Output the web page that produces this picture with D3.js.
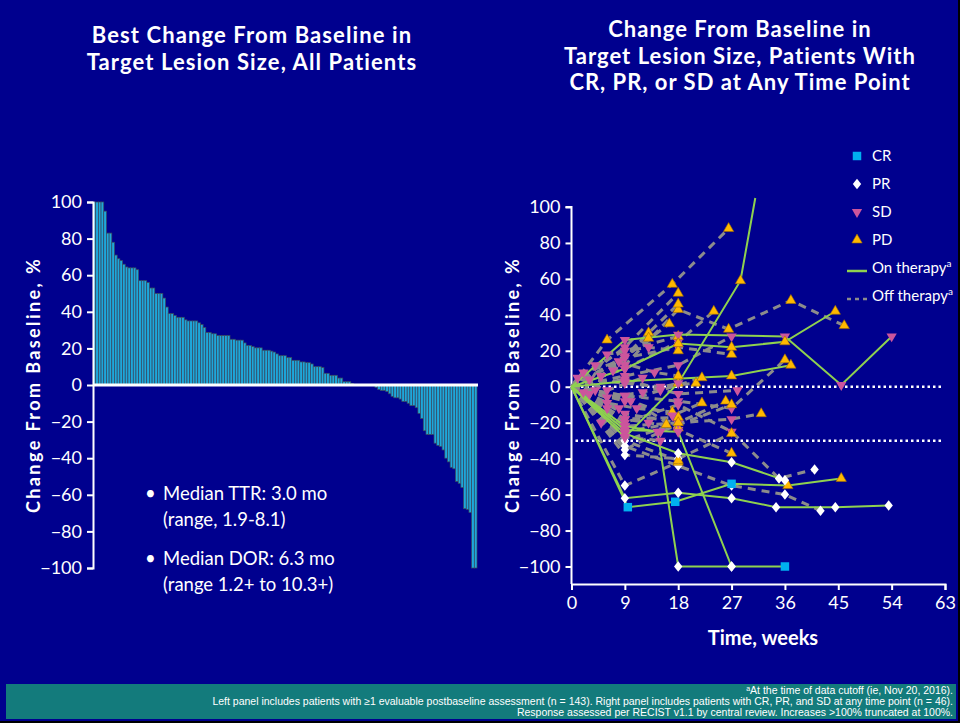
<!DOCTYPE html>
<html>
<head>
<meta charset="utf-8">
<script src="https://cdnjs.cloudflare.com/ajax/libs/d3/7.8.5/d3.min.js"></script>
<style>
  body { margin: 0; background: #000; }
  svg text { font-family: Lato, "Open Sans", sans-serif; fill: #fff; }
</style>
</head>
<body>
<svg id="chart" width="960" height="723"></svg>
<script>
// ---- data ----
var pctTicks = [100, 80, 60, 40, 20, 0, -20, -40, -60, -80, -100];
var weekTicks = [0, 9, 18, 27, 36, 45, 54, 63];

// best change from baseline, one bar per patient (n = 143), sorted
var bestChange = [
  100, 100, 100, 100, 95, 83, 83, 78, 71, 69, 68, 66, 64.5, 64, 64, 64, 63,
  57, 57, 57, 56, 53, 53, 50, 50, 50, 47.5, 42.6, 39, 39, 38, 37, 37, 37,
  35.6, 35, 35, 35, 35, 34, 33, 31.4, 28.7, 28.7, 28, 28, 27, 27, 27, 27, 27,
  25, 25, 24.5, 24.5, 24.5, 23, 21.6, 21.6, 21, 20.3, 20.3, 20.3, 19, 19, 19,
  18.5, 18, 17, 16, 16, 16, 15, 15, 13.5, 13.5, 13.5, 12.6, 12.6, 12.2, 12.2,
  11.5, 10, 10, 10, 9.5, 6.4, 6.4, 5.3, 5.3, 5.3, 3.8, 3.8, 1.8, 1.8, 1.8, 0.9,
  0, 0, 0, 0, 0, 0, 0, 0,
  -1.3, -2.5, -3, -3, -3.6, -4.8, -6.2, -7, -7, -7.7, -9, -9, -10, -11.3, -11.3,
  -12.4, -15.5, -18.3, -25, -27, -27, -27, -31.8, -33, -33.6, -35.5, -40, -42,
  -45, -45.8, -52.7, -53.8, -56, -67.6, -68, -69.7, -100, -100
];

// right panel: [week, % change, response at that assessment]
var onTherapy = [
  [[0,0],[9,-28,"SD"],[18,2,"SD"],[28.5,59,"PD"],[31,105]],
  [[0,0],[9,26,"SD"],[18,29,"SD"],[36,28,"SD"],[45.5,1,"SD"],[54,28,"SD"]],
  [[0,0],[9,10,"SD"],[18,24,"PD"],[27,22,"PD"],[36,25,"PD"],[44.5,42,"PD"]],
  [[0,0],[9,3,"SD"],[27,6,"PD"],[37,12,"PD"]],
  [[0,0],[9.5,-67,"CR"],[17.5,-64,"CR"],[27,-54,"CR"],[36.5,-55,"PD"],[45.5,-51,"PD"]],
  [[0,0],[9,-62,"PR"],[18,-59,"PR"],[27,-62,"PR"],[34.5,-67,"PR"],[44.5,-67,"PR"],[53.5,-66,"PR"]],
  [[0,0],[9,-26,"SD"],[18,-37,"PR"],[27,-42,"PR"],[36,-52,"PR"]],
  [[0,0],[9,-22,"SD"],[14.5,-25,"SD"],[18,-100,"PR"],[27,-100,"PR"]],
  [[0,0],[9,-24,"SD"],[18,-25,"SD"],[27,-100,"PR"],[36,-100,"CR"]]
];
var offTherapy = [
  [[0,0],[6,26,"PD"],[17,57,"PD"],[26.5,88,"PD"]],
  [[0,0],[9,12,"SD"],[18,43,"PD"],[26.5,32,"PD"],[37,48,"PD"],[46,34,"PD"]],
  [[0,0],[9,10,"SD"],[18,25,"SD"],[24,42,"PD"]],
  [[0,0],[9,22,"SD"],[18,52,"PD"]],
  [[0,0],[9,17,"SD"],[18,46,"PD"]],
  [[0,0],[8,14,"SD"],[16.5,35,"PD"]],
  [[0,0],[7,9,"SD"],[13,30,"PD"]],
  [[0,0],[5,6,"SD"],[13,27,"PD"]],
  [[0,0],[9,16,"SD"],[18,22,"SD"],[27,18,"PD"]],
  [[0,0],[9,6,"SD"],[18,12,"SD"],[27,28,"SD"]],
  [[0,0],[9,-5,"SD"],[18,-24,"SD"],[27,-37,"PD"]],
  [[0,0],[9,-20,"SD"],[18,-10,"SD"],[27,-25,"SD"],[35,-51,"PR"],[41,-46,"PR"]],
  [[0,0],[9,-33,"PR"],[18,-44,"PR"],[27,-55,"PR"],[36,-60,"PR"],[42,-69,"PR"]],
  [[0,0],[9,-55,"PR"],[18,-42,"PD"]],
  [[0,0],[9,-38,"PR"],[18,-40,"PR"],[27,-26,"PD"]],
  [[0,0],[9,-15,"SD"],[18,-20,"SD"],[27,-18,"SD"],[32,-15,"PD"]],
  [[0,0],[9,-5,"SD"],[18,-8,"SD"],[27,-12,"SD"],[36,15,"PD"]],
  [[0,0],[6,-6,"SD"],[12,-3,"SD"],[18,2,"PD"]],
  [[0,0],[3,4,"SD"],[9,2,"SD"],[15,0,"SD"],[21,2,"PD"]],
  [[0,0],[2,8,"SD"],[8,14,"SD"],[14,8,"SD"],[18,6,"PD"]],
  [[0,0],[6,-12,"SD"],[9,-18,"SD"],[13,-20,"SD"],[18,-23,"PD"]],
  [[0,0],[5,-20,"SD"],[9,-25,"SD"],[16,-21,"PD"]],
  [[0,0],[6,-9,"SD"],[11,-12,"SD"],[17,-14,"PD"]],
  [[0,0],[9,-8,"SD"],[15,-2,"SD"],[22,5,"PD"]],
  [[0,0],[4,12,"SD"],[9,20,"SD"],[18,28,"PD"]],
  [[0,0],[9,4,"SD"],[18,-4,"SD"],[28,-2,"SD"]],
  [[0,0],[9,-30,"PR"],[18,-20,"SD"],[26,-8,"PD"]],
  [[0,0],[9,-18,"SD"],[18,-17,"PD"]],
  [[0,0],[9,-22,"SD"],[18,-20,"PD"]],
  [[0,0],[9,-30,"PR"],[18,-41,"PD"]],
  [[0,0],[9,-35,"PR"],[15,-25,"SD"],[27,-10,"PD"]],
  [[0,0],[3,-4,"SD"],[8,-12,"SD"]],
  [[0,0],[2,-3,"SD"],[6,18,"SD"],[13,22,"SD"],[18,20,"PD"]],
  [[0,0],[9,-28,"SD"],[15,-30,"SD"]],
  [[0,0],[4,-2,"SD"],[10,-8,"SD"],[17,-16,"SD"],[22,-9,"PD"]],
  [[0,0],[1,5,"SD"],[6,-2,"SD"],[12,5,"SD"]]
];

var legendItems = ["CR", "PR", "SD", "PD"];

// ---- styles ----
var BG = "#00008e";
var GREEN = "#8fd14f";
var GREY = "#8c8c8c";

// wider diamond than d3.symbolDiamond
var wideDiamond = {
  draw: function(ctx, size) {
    var h = Math.sqrt(size) * 0.9, w = h * 0.8;
    ctx.moveTo(0, -h); ctx.lineTo(w, 0); ctx.lineTo(0, h); ctx.lineTo(-w, 0); ctx.closePath();
  }
};
var markerStyle = {
  CR: { type: d3.symbolSquare, size: 72, fill: "#00b0f0", stroke: "none", rot: 0 },
  PR: { type: wideDiamond, size: 34, fill: "#ffffff", stroke: "none", rot: 0 },
  SD: { type: d3.symbolTriangle, size: 46, fill: "#cc559c", stroke: "none", rot: 180 },
  PD: { type: d3.symbolTriangle, size: 46, fill: "#ffb800", stroke: "#a06c00", rot: 0 }
};

var svg = d3.select("#chart");
svg.append("rect").attr("width", 958).attr("height", 721).attr("fill", BG);

// ---- left panel ----
var yL = d3.scaleLinear().domain([-100, 100]).range([568, 202]);
var xL = d3.scaleBand().domain(d3.range(bestChange.length)).range([93, 477]).padding(0);

svg.append("g").selectAll("rect")
  .data(bestChange)
  .enter().append("rect")
  .attr("x", function(d, i) { return xL(i); })
  .attr("y", function(d) { return yL(Math.max(0, d)); })
  .attr("width", xL.bandwidth())
  .attr("height", function(d) { return Math.abs(yL(d) - yL(0)); })
  .attr("fill", "#1ea7da")
  .attr("stroke", "#3a4a5e")
  .attr("stroke-width", 0.7);

var axL = svg.append("g")
  .attr("transform", "translate(93,0)")
  .call(d3.axisLeft(yL).tickValues(pctTicks).tickSize(6).tickPadding(5));
axL.select(".domain").attr("stroke", "#fff").attr("stroke-width", 2);
axL.selectAll(".tick line").attr("stroke", "#fff").attr("stroke-width", 2);
axL.selectAll(".tick text").attr("fill", "#fff").style("font-size", "18px");

svg.append("line")
  .attr("x1", 93).attr("x2", 478)
  .attr("y1", yL(0)).attr("y2", yL(0))
  .attr("stroke", "#fff").attr("stroke-width", 3);

svg.append("text")
  .attr("transform", "translate(40,385) rotate(-90)")
  .attr("text-anchor", "middle")
  .style("font-size", "18px").style("font-weight", "bold").style("letter-spacing", "2.4px")
  .text("Change From Baseline, %");

var titleL = svg.append("text").attr("text-anchor", "middle")
  .style("font-size", "22px").style("font-weight", "bold").style("letter-spacing", "1.1px");
titleL.append("tspan").attr("x", 252).attr("y", 43).text("Best Change From Baseline in");
titleL.append("tspan").attr("x", 252).attr("y", 70).text("Target Lesion Size, All Patients");

var notes = [
  ["\u2022", "Median TTR: 3.0 mo", 500],
  ["", "(range, 1.9-8.1)", 526],
  ["\u2022", "Median DOR: 6.3 mo", 565],
  ["", "(range 1.2+ to 10.3+)", 591]
];
notes.forEach(function(n) {
  if (n[0]) svg.append("text").attr("x", 145).attr("y", n[2]).style("font-size", "18.5px").text(n[0]);
  svg.append("text").attr("x", 163).attr("y", n[2]).style("font-size", "18.5px").text(n[1]);
});

// ---- right panel ----
var xR = d3.scaleLinear().domain([0, 63]).range([571.5, 945]);
var yR = d3.scaleLinear().domain([-100, 100]).range([566.5, 207]);

var axR = svg.append("g")
  .attr("transform", "translate(571.5,0)")
  .call(d3.axisLeft(yR).tickValues(pctTicks).tickSize(6).tickPadding(5));
axR.select(".domain").attr("stroke", "#fff").attr("stroke-width", 2)
  .attr("d", "M-6,207H0V584");
axR.selectAll(".tick line").attr("stroke", "#fff").attr("stroke-width", 2);
axR.selectAll(".tick text").attr("fill", "#fff").style("font-size", "18px");

var axB = svg.append("g")
  .attr("transform", "translate(0,584)")
  .call(d3.axisBottom(xR).tickValues(weekTicks).tickSize(6).tickPadding(6));
axB.select(".domain").attr("stroke", "#fff").attr("stroke-width", 2);
axB.selectAll(".tick line").attr("stroke", "#fff").attr("stroke-width", 2);
axB.selectAll(".tick text").attr("fill", "#fff").style("font-size", "18px");

[0, -30].forEach(function(v) {
  svg.append("line")
    .attr("x1", xR(0) + 4).attr("x2", xR(63) - 4)
    .attr("y1", yR(v)).attr("y2", yR(v))
    .attr("stroke", "#fff").attr("stroke-width", 2.5)
    .attr("stroke-dasharray", "2.5,3");
});

var line = d3.line()
  .x(function(d) { return xR(d[0]); })
  .y(function(d) { return yR(d[1]); });

svg.append("g").selectAll("path")
  .data(offTherapy)
  .enter().append("path")
  .attr("d", line)
  .attr("fill", "none")
  .attr("stroke", GREY)
  .attr("stroke-width", 3)
  .attr("stroke-dasharray", "8,6");

svg.append("g").selectAll("path")
  .data(onTherapy)
  .enter().append("path")
  .attr("d", line)
  .attr("fill", "none")
  .attr("stroke", GREEN)
  .attr("stroke-width", 2);

var pts = [];
offTherapy.concat(onTherapy).forEach(function(track) {
  track.forEach(function(p) { if (p[2]) pts.push(p); });
});

function drawMarker(sel, code) {
  var m = markerStyle[code];
  sel.attr("d", d3.symbol().type(m.type).size(m.size)())
    .attr("fill", m.fill)
    .attr("stroke", m.stroke)
    .attr("stroke-width", 0.6);
}

svg.append("g").selectAll("path")
  .data(pts)
  .enter().append("path")
  .each(function(d) { drawMarker(d3.select(this), d[2]); })
  .attr("transform", function(d) {
    return "translate(" + xR(d[0]) + "," + yR(d[1]) + ") rotate(" + markerStyle[d[2]].rot + ")";
  });

svg.append("text")
  .attr("transform", "translate(519,385) rotate(-90)")
  .attr("text-anchor", "middle")
  .style("font-size", "18px").style("font-weight", "bold").style("letter-spacing", "2.4px")
  .text("Change From Baseline, %");

svg.append("text")
  .attr("x", 763).attr("y", 645)
  .attr("text-anchor", "middle")
  .style("font-size", "20px").style("font-weight", "bold")
  .text("Time, weeks");

var titleR = svg.append("text").attr("text-anchor", "middle")
  .style("font-size", "22px").style("font-weight", "bold").style("letter-spacing", "1px");
titleR.append("tspan").attr("x", 740).attr("y", 37).text("Change From Baseline in");
titleR.append("tspan").attr("x", 740).attr("y", 63.5).text("Target Lesion Size, Patients With");
titleR.append("tspan").attr("x", 740).attr("y", 90).text("CR, PR, or SD at Any Time Point");

// legend
var lg = svg.append("g");
legendItems.forEach(function(code, i) {
  var y = 156 + i * 28;
  lg.append("path")
    .call(drawMarker, code)
    .attr("transform", "translate(857," + y + ") rotate(" + markerStyle[code].rot + ")");
  lg.append("text").attr("x", 872).attr("y", y + 5).style("font-size", "15px").text(code);
});
[["On therapy", GREEN, null], ["Off therapy", GREY, "4,4"]].forEach(function(d, i) {
  var y = 268 + i * 28;
  lg.append("line")
    .attr("x1", 847).attr("x2", 867).attr("y1", y + 3).attr("y2", y + 3)
    .attr("stroke", d[1]).attr("stroke-width", 2.5)
    .attr("stroke-dasharray", d[2]);
  var t = lg.append("text").attr("x", 872).attr("y", y + 5).style("font-size", "15px");
  t.append("tspan").text(d[0]);
  t.append("tspan").attr("dy", -6).style("font-size", "10px").text("a");
});

// ---- footer ----
svg.append("rect").attr("x", 6).attr("y", 684).attr("width", 950).attr("height", 35).attr("fill", "#137b7c");
var foot = [
  "At the time of data cutoff (ie, Nov 20, 2016).",
  "Left panel includes patients with \u22651 evaluable postbaseline assessment (n = 143). Right panel includes patients with CR, PR, and SD at any time point (n = 46).",
  "Response assessed per RECIST v1.1 by central review. Increases >100% truncated at 100%."
];
foot.forEach(function(s, i) {
  var t = svg.append("text")
    .attr("x", 953).attr("y", 694 + i * 11)
    .attr("text-anchor", "end")
    .style("font-family", "'Liberation Sans Narrow', 'Liberation Sans', sans-serif")
    .style("font-size", "10.5px");
  if (i === 0) t.append("tspan").attr("dy", -3).style("font-size", "7px").text("a");
  t.append("tspan").attr("dy", i === 0 ? 3 : 0).text(s);
});
</script>
</body>
</html>
